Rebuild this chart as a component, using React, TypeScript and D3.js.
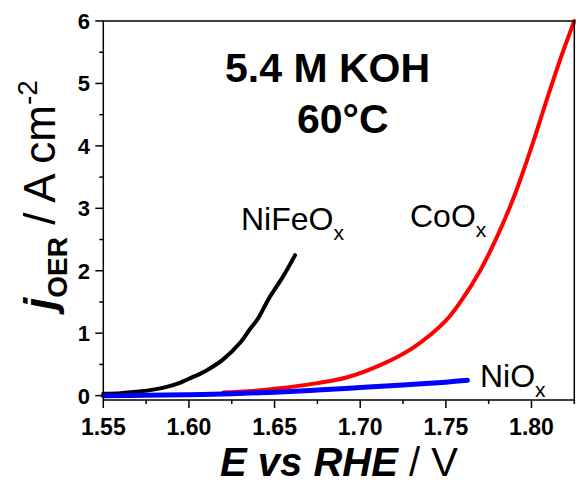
import React, { useEffect, useRef } from 'react';
import * as d3 from 'd3';

// NiFeOx (black)
const nifeE = [1.55, 1.56, 1.571, 1.58, 1.587, 1.595, 1.60, 1.61, 1.62, 1.63, 1.636, 1.64, 1.647, 1.655, 1.662];
const nifeJ = [0.03, 0.04, 0.065, 0.10, 0.14, 0.21, 0.27, 0.40, 0.58, 0.85, 1.08, 1.22, 1.57, 1.91, 2.25];

// CoOx (red)
const cooE = [1.62, 1.635, 1.65, 1.665, 1.675, 1.692, 1.711, 1.731, 1.75, 1.76, 1.77, 1.78, 1.79, 1.80, 1.81, 1.818, 1.825];
const cooJ = [0.05, 0.07, 0.11, 0.16, 0.20, 0.29, 0.48, 0.77, 1.20, 1.56, 2.00, 2.55, 3.20, 3.98, 4.83, 5.48, 6.00];

// NiOx (blue)
const nioE = [1.55, 1.575, 1.60, 1.625, 1.65, 1.675, 1.70, 1.725, 1.75, 1.7626];
const nioJ = [0.0, 0.005, 0.015, 0.03, 0.055, 0.09, 0.13, 0.17, 0.215, 0.245];

const xTicks = [1.55, 1.60, 1.65, 1.70, 1.75, 1.80];
const xMinor = [1.575, 1.625, 1.675, 1.725, 1.775, 1.825];
const yTicks = [0, 1, 2, 3, 4, 5, 6];
const yMinor = [0.5, 1.5, 2.5, 3.5, 4.5, 5.5];

const FONT = "'Liberation Sans', Arial, sans-serif";

const App = () => {
  const ref = useRef<SVGSVGElement | null>(null);

  useEffect(() => {
    if (!ref.current) return;
    const svg = d3.select(ref.current);
    svg.selectAll('*').remove();

    const x = d3.scaleLinear().domain([1.55, 1.825]).range([103.3, 574.3]);
    const y = d3.scaleLinear().domain([-0.07, 6.0]).range([400, 21]);

    const series = [
      { E: nifeE, J: nifeJ, color: '#000000', w: 4 },
      { E: cooE, J: cooJ, color: '#ff0000', w: 4 },
      { E: nioE, J: nioJ, color: '#0000ff', w: 5 },
    ];

    const line = d3.line<[number, number]>()
      .x(d => x(d[0]))
      .y(d => y(d[1]))
      .curve(d3.curveCatmullRom.alpha(0.5));

    const plot = svg.append('g');
    // red first, then black, blue on top
    [series[1], series[0], series[2]].forEach(s => {
      plot.append('path')
        .datum(s.E.map((e, i) => [e, s.J[i]] as [number, number]))
        .attr('d', line)
        .attr('fill', 'none')
        .attr('stroke', s.color)
        .attr('stroke-width', s.w)
        .attr('stroke-linecap', 'round')
        .attr('stroke-linejoin', 'round');
    });

    // frame
    const [x0, x1] = x.range();
    const [y0, y1] = y.range();
    svg.append('rect')
      .attr('x', x0).attr('y', y1)
      .attr('width', x1 - x0).attr('height', y0 - y1)
      .attr('fill', 'none').attr('stroke', '#000').attr('stroke-width', 1.5);

    // x ticks
    const gx = svg.append('g');
    xTicks.forEach(t => {
      gx.append('line').attr('x1', x(t)).attr('x2', x(t)).attr('y1', y0).attr('y2', y0 + 8)
        .attr('stroke', '#000').attr('stroke-width', 1.5);
      gx.append('text').attr('x', x(t)).attr('y', 435)
        .attr('text-anchor', 'middle')
        .style('font-family', FONT).style('font-size', '23px').style('font-weight', 'bold')
        .text(t.toFixed(2));
    });
    xMinor.forEach(t => {
      gx.append('line').attr('x1', x(t)).attr('x2', x(t)).attr('y1', y0).attr('y2', y0 + 4)
        .attr('stroke', '#000').attr('stroke-width', 1.5);
    });

    // y ticks
    const gy = svg.append('g');
    yTicks.forEach(t => {
      gy.append('line').attr('x1', x0).attr('x2', x0 - 8).attr('y1', y(t)).attr('y2', y(t))
        .attr('stroke', '#000').attr('stroke-width', 1.5);
      gy.append('text').attr('x', 90).attr('y', y(t) + 8)
        .attr('text-anchor', 'end')
        .style('font-family', FONT).style('font-size', '22px').style('font-weight', 'bold')
        .text(String(t));
    });
    yMinor.forEach(t => {
      gy.append('line').attr('x1', x0).attr('x2', x0 - 4).attr('y1', y(t)).attr('y2', y(t))
        .attr('stroke', '#000').attr('stroke-width', 1.5);
    });

    // x axis label
    const xl = svg.append('text').attr('x', 339).attr('y', 476)
      .attr('text-anchor', 'middle')
      .style('font-family', FONT).style('font-size', '40px');
    xl.append('tspan').style('font-weight', 'bold').style('font-style', 'italic').text('E vs RHE');
    xl.append('tspan').text(' / V');

    // y axis label
    const yl = svg.append('text')
      .attr('transform', 'translate(55,310) rotate(-90)')
      .attr('text-anchor', 'start')
      .style('font-family', FONT).style('font-size', '44px');
    yl.append('tspan').style('font-weight', 'bold').style('font-style', 'italic').text('j');
    yl.append('tspan').attr('dy', 12).style('font-weight', 'bold').style('font-size', '28px').text('OER');
    yl.append('tspan').attr('dy', -12).text(' / A cm');
    yl.append('tspan').attr('dy', -18).style('font-size', '28px').text('-2');

    // condition annotation
    svg.append('text').attr('x', 225).attr('y', 82)
      .style('font-family', FONT).style('font-size', '41px').style('font-weight', 'bold')
      .text('5.4 M KOH');
    svg.append('text').attr('x', 297).attr('y', 133)
      .style('font-family', FONT).style('font-size', '41px').style('font-weight', 'bold')
      .text('60°C');

    // series labels
    const labels = [
      { name: 'NiFeO', x: 241, y: 230 },
      { name: 'CoO', x: 410, y: 227 },
      { name: 'NiO', x: 480, y: 387 },
    ];
    labels.forEach(l => {
      const t = svg.append('text').attr('x', l.x).attr('y', l.y)
        .style('font-family', FONT).style('font-size', '32px');
      t.append('tspan').text(l.name);
      t.append('tspan').attr('dy', 10).style('font-size', '21px').text('x');
    });
  }, []);

  return (
    <svg
      ref={ref}
      width={576}
      height={484}
      style={{ position: 'absolute', left: 0, top: 0, background: '#fff' }}
    />
  );
};

export default App;
